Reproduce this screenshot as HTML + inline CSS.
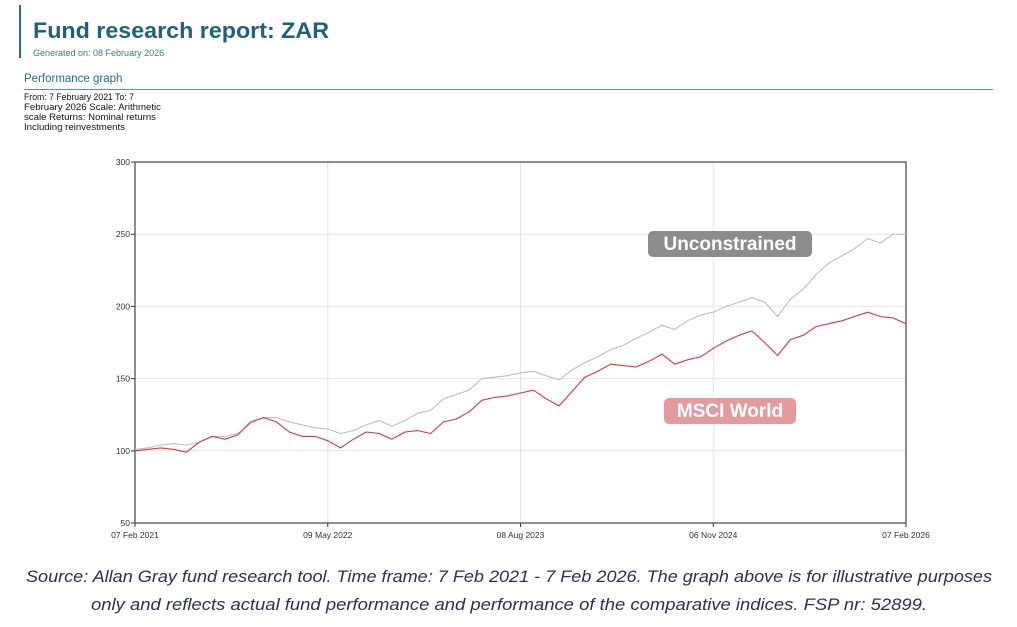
<!DOCTYPE html>
<html><head><meta charset="utf-8"><style>
html,body{margin:0;padding:0;background:#fff;}
svg{display:block;font-family:"Liberation Sans",Arial,sans-serif;}
</style></head><body>
<svg id="page" width="1017" height="627" viewBox="0 0 1017 627" xmlns="http://www.w3.org/2000/svg">
<rect x="19" y="5" width="2" height="53" fill="#2a6e80"/>
<text x="33" y="38" font-size="22" font-weight="bold" fill="#1d6277" textLength="296" lengthAdjust="spacingAndGlyphs">Fund research report: ZAR</text>
<text x="33" y="56" font-size="9" fill="#3d7a8a">Generated on: 08 February 2026</text>
<text x="24" y="82" font-size="11.5" fill="#2a6e80">Performance graph</text>
<line x1="24" y1="89.5" x2="993" y2="89.5" stroke="#5a8f9c" stroke-width="1"/>
<g font-size="9.5" fill="#111">
<text x="24" y="100" textLength="110" lengthAdjust="spacingAndGlyphs">From: 7 February 2021 To: 7</text>
<text x="24" y="110" textLength="137" lengthAdjust="spacingAndGlyphs">February 2026 Scale: Arithmetic</text>
<text x="24" y="120" textLength="132" lengthAdjust="spacingAndGlyphs">scale Returns: Nominal returns</text>
<text x="24" y="130" textLength="101" lengthAdjust="spacingAndGlyphs">Including reinvestments</text>
</g>
<g id="chart"></g>
<g font-size="16.5" font-style="italic" fill="#2a2f55" text-anchor="middle">
<text x="509" y="582" textLength="966" lengthAdjust="spacingAndGlyphs">Source: Allan Gray fund research tool. Time frame: 7 Feb 2021 - 7 Feb 2026. The graph above is for illustrative purposes</text>
<text x="509" y="610" textLength="836" lengthAdjust="spacingAndGlyphs">only and reflects actual fund performance and performance of the comparative indices. FSP nr: 52899.</text>
</g>
</svg>
<script>
const yTicks = [50, 100, 150, 200, 250, 300];
const xTickLabels = ["07 Feb 2021", "09 May 2022", "08 Aug 2023", "06 Nov 2024", "07 Feb 2026"];
const xTickMonths = [0, 15, 30, 45, 60];
const msciWorld = [100,101,102,101,99,106,110,108,111,120,123,120,113,110,110,107,102,108,113,112,108,113,114,112,120,122,127,135,137,138,140,142,136,131,141,151,155,160,159,158,162,167,160,163,165,171,176,180,183,175,166,177,180,186,188,190,193,196,193,192,188];
const unconstrained = [101,102,104,105,104,106,110,110,112,119,123,123,120,118,116,115,112,114,118,121,117,121,126,128,136,139,142,150,151,152,154,155,152,149,156,161,165,170,173,178,182,187,184,190,194,196,200,203,206,203,193,205,212,222,230,235,240,247,244,250,250];

const NS = "http://www.w3.org/2000/svg";
const L = 135, R = 906, T = 162, B = 523;
const xS = m => L + (R - L) * m / 60;
const yS = v => B - (B - T) * (v - 50) / 250;
const g = document.getElementById('chart');
function mk(tag, attrs, parent) {
  const e = document.createElementNS(NS, tag);
  for (const k in attrs) e.setAttribute(k, attrs[k]);
  (parent || g).appendChild(e);
  return e;
}
yTicks.forEach(v => {
  const ln = mk('line', {x1: L, x2: R, y1: yS(v), y2: yS(v), stroke: '#e4e4e4', 'stroke-width': 1});
  
  
  const tk = mk('line', {x1: L - 4, x2: L, y1: yS(v), y2: yS(v), stroke: '#333', 'stroke-width': 1});
  
  
  const t = mk('text', {x: L - 5, y: yS(v) + 3, 'font-size': 8.5, fill: '#333', 'text-anchor': 'end'});
  t.textContent = v;
  
  
});
xTickMonths.forEach((m, i) => {
  const ln = mk('line', {x1: xS(m), x2: xS(m), y1: T, y2: B, stroke: '#e4e4e4', 'stroke-width': 1});
  
  
  const tk = mk('line', {x1: xS(m), x2: xS(m), y1: B, y2: B + 4, stroke: '#333', 'stroke-width': 1});
  
  
  const t = mk('text', {x: xS(m), y: B + 15, 'font-size': 8.5, fill: '#333', 'text-anchor': 'middle'});
  t.textContent = xTickLabels[i];
  
  
});
const frame = mk('rect', {x: L, y: T, width: R - L, height: B - T, fill: 'none', stroke: '#444', 'stroke-width': 1.2});


function line(arr, color, name) {
  const d = arr.map((v, i) => (i ? 'L' : 'M') + xS(i).toFixed(1) + ' ' + yS(v).toFixed(1)).join(' ');
  const p = mk('path', {d: d, fill: 'none', stroke: color, 'stroke-width': 1.1, 'stroke-linejoin': 'round'});
  
  
}
line(unconstrained, '#bdbdbd', 'unconstrained-line');
line(msciWorld, '#e0343f', 'msci-world-line');
const b1 = mk('rect', {x: 648, y: 231, width: 164, height: 26, rx: 5, fill: '#8c8c8c'});


const t1 = mk('text', {x: 730, y: 250, 'font-size': 19, 'font-weight': 'bold', fill: '#fff', 'text-anchor': 'middle'});
t1.textContent = 'Unconstrained';


const b2 = mk('rect', {x: 664, y: 398, width: 132, height: 26, rx: 5, fill: '#e59a9c'});


const t2 = mk('text', {x: 730, y: 417, 'font-size': 19, 'font-weight': 'bold', fill: '#fff', 'text-anchor': 'middle'});
t2.textContent = 'MSCI World';


</script>
</body></html>
